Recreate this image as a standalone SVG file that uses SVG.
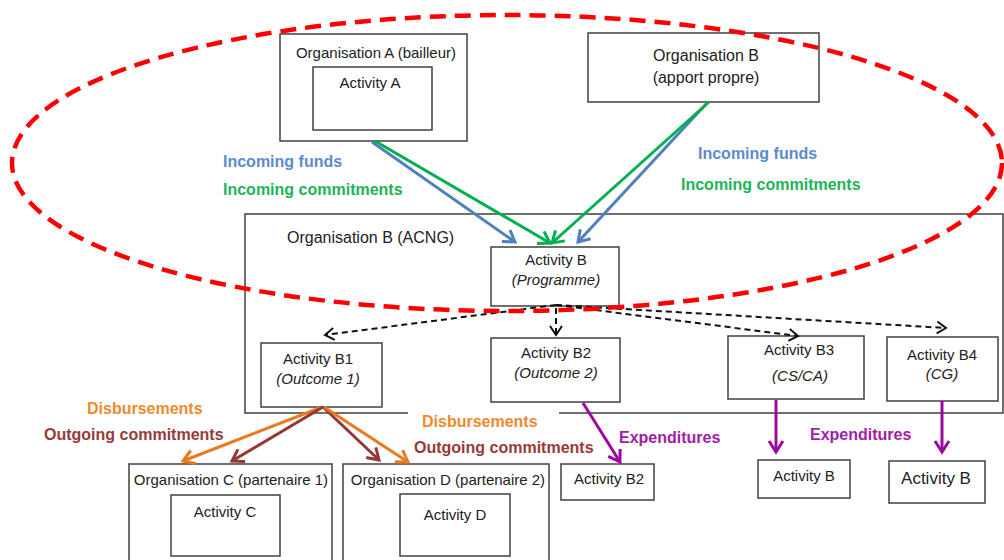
<svg xmlns="http://www.w3.org/2000/svg" width="1004" height="560" viewBox="0 0 1004 560">
  <defs>
    <style>
      .box { fill: #ffffff; stroke: #404040; stroke-width: 1.5; }
      .t { font-family: "Liberation Sans", Arial, sans-serif; font-size: 15px; fill: #222222; }
      .t16 { font-size: 16px; }
      .it { font-style: italic; }
      .lbl { font-family: "Liberation Sans", Arial, sans-serif; font-size: 16px; font-weight: bold; }
      .c { text-anchor: middle; }
      .blue { fill: #5B8BD0; }
      .green { fill: #1DB455; }
      .orange { fill: #EE8A2E; }
      .brown { fill: #963A3A; }
      .purple { fill: #A020A8; }
      .ln { fill: none; stroke-width: 3; }
      .dash { fill: none; stroke: #111111; stroke-width: 2; stroke-dasharray: 6 4; }
    </style>
    <marker id="mBlue" markerUnits="userSpaceOnUse" viewBox="-14 -10 18 20" refX="0" refY="0" markerWidth="18" markerHeight="20" orient="auto">
      <path d="M-11,-7 L0,0 L-11,7" fill="none" stroke="#4F81BD" stroke-width="3"/>
    </marker>
    <marker id="mGreen" markerUnits="userSpaceOnUse" viewBox="-14 -10 18 20" refX="0" refY="0" markerWidth="18" markerHeight="20" orient="auto">
      <path d="M-11,-7 L0,0 L-11,7" fill="none" stroke="#00B050" stroke-width="3"/>
    </marker>
    <marker id="mOrange" markerUnits="userSpaceOnUse" viewBox="-14 -10 18 20" refX="0" refY="0" markerWidth="18" markerHeight="20" orient="auto">
      <path d="M-11,-7 L0,0 L-11,7" fill="none" stroke="#E87B1E" stroke-width="3"/>
    </marker>
    <marker id="mBrown" markerUnits="userSpaceOnUse" viewBox="-14 -10 18 20" refX="0" refY="0" markerWidth="18" markerHeight="20" orient="auto">
      <path d="M-11,-7 L0,0 L-11,7" fill="none" stroke="#953735" stroke-width="3"/>
    </marker>
    <marker id="mPurple" markerUnits="userSpaceOnUse" viewBox="-14 -10 18 20" refX="0" refY="0" markerWidth="18" markerHeight="20" orient="auto">
      <path d="M-11,-7 L0,0 L-11,7" fill="none" stroke="#9A0AA0" stroke-width="3"/>
    </marker>
    <marker id="mBlack" markerUnits="userSpaceOnUse" viewBox="-12 -8 14 16" refX="0" refY="0" markerWidth="14" markerHeight="16" orient="auto">
      <path d="M-9,-6 L0,0 L-9,6" fill="none" stroke="#111111" stroke-width="2"/>
    </marker>
  </defs>

  <rect width="1004" height="560" fill="#ffffff"/>

  <!-- donor organisation -->
  <g id="org-a">
    <rect class="box" x="280" y="34" width="187" height="107"/>
    <text class="t c" x="376" y="58">Organisation A (bailleur)</text>
  </g>
  <g id="activity-a">
    <rect class="box" x="313" y="67" width="119" height="63"/>
    <text class="t c" x="370" y="88">Activity A</text>
  </g>

  <!-- own contribution -->
  <g id="org-b-own">
    <rect class="box" x="588" y="33" width="231" height="69"/>
    <text class="t t16 c" x="706" y="61">Organisation B</text>
    <text class="t t16 c" x="706" y="83">(apport propre)</text>
  </g>

  <!-- ACNG container, bottom edge open under the labels -->
  <g id="org-b-acng">
    <path d="M408,413 H245 V214 H1003 V413 H559" fill="none" stroke="#404040" stroke-width="1.5"/>
    <text class="t t16" x="287" y="243">Organisation B (ACNG)</text>
  </g>

  <g id="activity-b">
    <rect class="box" x="491" y="247" width="128" height="59"/>
    <text class="t c" x="556" y="265">Activity B</text>
    <text class="t it c" x="556" y="285">(Programme)</text>
  </g>
  <g id="activity-b1">
    <rect class="box" x="261" y="343" width="121" height="64"/>
    <text class="t c" x="318" y="364">Activity B1</text>
    <text class="t it c" x="318" y="384">(Outcome 1)</text>
  </g>
  <g id="activity-b2">
    <rect class="box" x="491" y="338" width="129" height="64"/>
    <text class="t c" x="556" y="358">Activity B2</text>
    <text class="t it c" x="556" y="378">(Outcome 2)</text>
  </g>
  <g id="activity-b3">
    <rect class="box" x="728" y="336" width="136" height="63"/>
    <text class="t c" x="799" y="355">Activity B3</text>
    <text class="t it c" x="800" y="381">(CS/CA)</text>
  </g>
  <g id="activity-b4">
    <rect class="box" x="887" y="337" width="111" height="64"/>
    <text class="t c" x="942" y="360">Activity B4</text>
    <text class="t it c" x="942" y="379">(CG)</text>
  </g>

  <!-- partners -->
  <g id="org-c">
    <rect class="box" x="129" y="464" width="203" height="100"/>
    <text class="t c" x="231" y="485">Organisation C (partenaire 1)</text>
  </g>
  <g id="activity-c">
    <rect class="box" x="171" y="495" width="109" height="61"/>
    <text class="t c" x="225" y="517">Activity C</text>
  </g>
  <g id="org-d">
    <rect class="box" x="343" y="464" width="206" height="100"/>
    <text class="t c" x="448" y="485">Organisation D (partenaire 2)</text>
  </g>
  <g id="activity-d">
    <rect class="box" x="400" y="494" width="110" height="62"/>
    <text class="t c" x="455" y="520">Activity D</text>
  </g>

  <!-- expenditure targets -->
  <g id="exp-b2">
    <rect class="box" x="561" y="464" width="93" height="36"/>
    <text class="t c" x="609" y="484">Activity B2</text>
  </g>
  <g id="exp-b3">
    <rect class="box" x="758" y="460" width="92" height="38"/>
    <text class="t c" x="804" y="481">Activity B</text>
  </g>
  <g id="exp-b4">
    <rect class="box" x="889" y="461" width="96" height="42"/>
    <text class="t c" x="936" y="484" style="font-size:17px">Activity B</text>
  </g>

  <!-- flows -->
  <g id="connectors">
    <line class="ln" x1="372" y1="142" x2="515" y2="242" stroke="#4F81BD" marker-end="url(#mBlue)"/>
    <line class="ln" x1="375" y1="141" x2="550" y2="243" stroke="#00B050" marker-end="url(#mGreen)"/>
    <line class="ln" x1="707" y1="103" x2="578" y2="242" stroke="#4F81BD" marker-end="url(#mBlue)"/>
    <line class="ln" x1="709" y1="102" x2="552" y2="243" stroke="#00B050" marker-end="url(#mGreen)"/>

    <line class="dash" x1="556" y1="305" x2="325" y2="335" marker-end="url(#mBlack)"/>
    <line class="dash" x1="556" y1="308" x2="556" y2="335" marker-end="url(#mBlack)"/>
    <line class="dash" x1="556" y1="305" x2="798" y2="336" marker-end="url(#mBlack)"/>
    <line class="dash" x1="556" y1="305" x2="946" y2="328" marker-end="url(#mBlack)"/>

    <line class="ln" x1="322" y1="407" x2="183" y2="461" stroke="#E87B1E" marker-end="url(#mOrange)"/>
    <line class="ln" x1="323" y1="407" x2="232" y2="461" stroke="#953735" marker-end="url(#mBrown)"/>
    <line class="ln" x1="323" y1="407" x2="379" y2="460" stroke="#953735" marker-end="url(#mBrown)"/>
    <line class="ln" x1="324" y1="407" x2="408" y2="462" stroke="#E87B1E" marker-end="url(#mOrange)"/>

    <line class="ln" x1="583" y1="403" x2="620" y2="462" stroke="#9A0AA0" marker-end="url(#mPurple)"/>
    <line class="ln" x1="776" y1="400" x2="776" y2="452" stroke="#9A0AA0" marker-end="url(#mPurple)"/>
    <line class="ln" x1="942" y1="401" x2="942" y2="452" stroke="#9A0AA0" marker-end="url(#mPurple)"/>
  </g>

  <!-- flow labels -->
  <g id="labels">
    <text class="lbl blue" x="223" y="167">Incoming funds</text>
    <text class="lbl green" x="223" y="195">Incoming commitments</text>
    <text class="lbl blue" x="698" y="159">Incoming funds</text>
    <text class="lbl green" x="681" y="190">Incoming commitments</text>
    <text class="lbl orange" x="87" y="414">Disbursements</text>
    <text class="lbl brown" x="44" y="440">Outgoing commitments</text>
    <text class="lbl orange" x="422" y="427">Disbursements</text>
    <text class="lbl brown" x="414" y="453">Outgoing commitments</text>
    <text class="lbl purple" x="619" y="443">Expenditures</text>
    <text class="lbl purple" x="810" y="440">Expenditures</text>
  </g>

  <!-- scope of the incoming flows -->
  <ellipse cx="507" cy="163" rx="495" ry="148" fill="none" stroke="#FF0000" stroke-width="4.5" stroke-dasharray="16 9"/>
</svg>
